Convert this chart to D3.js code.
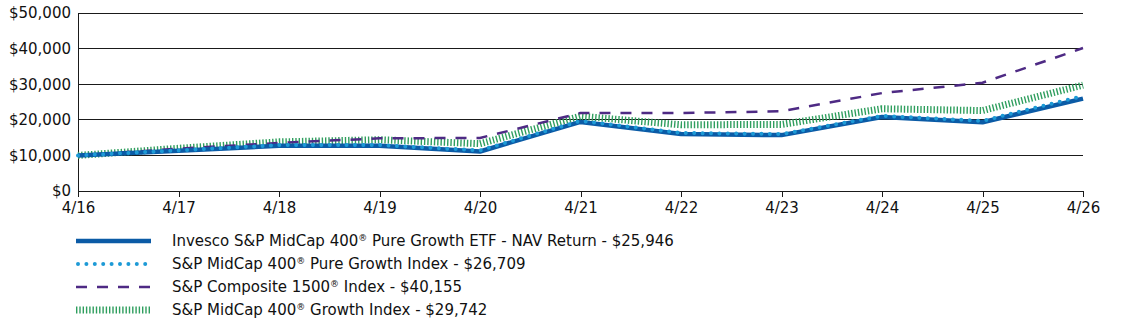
<!DOCTYPE html>
<html><head><meta charset="utf-8">
<script src="https://cdn.jsdelivr.net/npm/d3@7"></script>
<style>body{margin:0;background:#fff}svg{display:block;font-family:"DejaVu Sans",sans-serif}</style>
</head><body>
<svg id="c" width="1123" height="327"></svg>
<script>
const xLabels = ["4/16","4/17","4/18","4/19","4/20","4/21","4/22","4/23","4/24","4/25","4/26"];
const yTicks = [0,10000,20000,30000,40000,50000];
const fund = [10000,11300,12700,12700,11100,19400,16000,15700,20800,19300,25946];
const pureGrowth = [10000,11400,12900,12900,11400,19700,16300,16000,21100,19700,26709];
const composite = [10000,11900,13500,14800,14900,21900,21900,22400,27500,30400,40155];
const growth = [10000,12000,13800,14400,13300,21000,18600,18700,23100,22600,29742];
const seriesNames = [
  ["Invesco S&P MidCap 400","® Pure Growth ETF - NAV Return - $25,946"],
  ["S&P MidCap 400","® Pure Growth Index - $26,709"],
  ["S&P Composite 1500","® Index - $40,155"],
  ["S&P MidCap 400","® Growth Index - $29,742"]
];

const svg = d3.select("#c");
const x = d3.scalePoint().domain(xLabels).range([78,1083]);
const y = d3.scaleLinear().domain([0,50000]).range([191,13]);

// gridlines
svg.append("g").selectAll("line").data(yTicks.slice(1)).join("line")
  .attr("x1",78).attr("x2",1083).attr("y1",d=>y(d)).attr("y2",d=>y(d))
  .attr("stroke","#1a1a1a").attr("stroke-width",1).attr("shape-rendering","crispEdges");

// y labels
svg.append("g").selectAll("text").data(yTicks).join("text")
  .attr("x",71).attr("y",d=>y(d)).attr("dy","0.36em").attr("text-anchor","end")
  .attr("font-size",15).attr("fill","#111")
  .text(d=>"$"+d3.format(",")(d));

// y axis line
svg.append("line").attr("x1",78).attr("x2",78).attr("y1",y(50000)).attr("y2",y(0))
  .attr("stroke","#1a1a1a").attr("shape-rendering","crispEdges");

// x axis
const xAxis = d3.axisBottom(x).tickSize(6).tickPadding(5).tickSizeOuter(0);
const gx = svg.append("g").attr("transform",`translate(0,${y(0)})`).call(xAxis);
gx.select(".domain").attr("stroke","#1a1a1a").attr("shape-rendering","crispEdges");
gx.selectAll(".tick line").attr("stroke","#1a1a1a").attr("shape-rendering","crispEdges");
gx.selectAll(".tick text").attr("font-size",15).attr("fill","#111").attr("font-family","DejaVu Sans, sans-serif");

const line = d3.line().x((d,i)=>x(xLabels[i])).y(d=>y(d));

const styles = [
  {data:fund, color:"#0b5ba6", w:4.5, dash:null, cap:"butt"},
  {data:pureGrowth, color:"#1d9ad6", w:4, dash:"0,8.4", cap:"round"},
  {data:composite, color:"#4e2a84", w:2.5, dash:"11,10", cap:"butt"},
  {data:growth, color:"#2f9e5e", w:7, dash:"1.4,1.9", cap:"butt"}
];
const order = [3,2,0,1];
order.forEach(k=>{
  const s = styles[k];
  svg.append("path").datum(s.data).attr("d",line).attr("fill","none")
    .attr("stroke",s.color).attr("stroke-width",s.w).attr("stroke-linecap",s.cap)
    .attr("stroke-linejoin","round")
    .attr("stroke-dasharray",s.dash);
});

// legend
const ly = [241,264,287,310];
styles.forEach((s,i)=>{
  svg.append("line").attr("x1",k=>i===1?78:76).attr("x2",151).attr("y1",ly[i]).attr("y2",ly[i])
    .attr("stroke",s.color).attr("stroke-width",i===3?7:s.w).attr("stroke-linecap",s.cap)
    .attr("stroke-dasharray",s.dash);
  const t = svg.append("text").attr("x",172).attr("y",ly[i]).attr("dy","0.36em")
    .attr("font-size",15).attr("fill","#111");
  t.append("tspan").text(seriesNames[i][0]);
  t.append("tspan").attr("font-size",9).attr("dy","-0.6em").text("®");
  t.append("tspan").attr("dy","0.35em").text(seriesNames[i][1].slice(1));
});
</script>
</body></html>
